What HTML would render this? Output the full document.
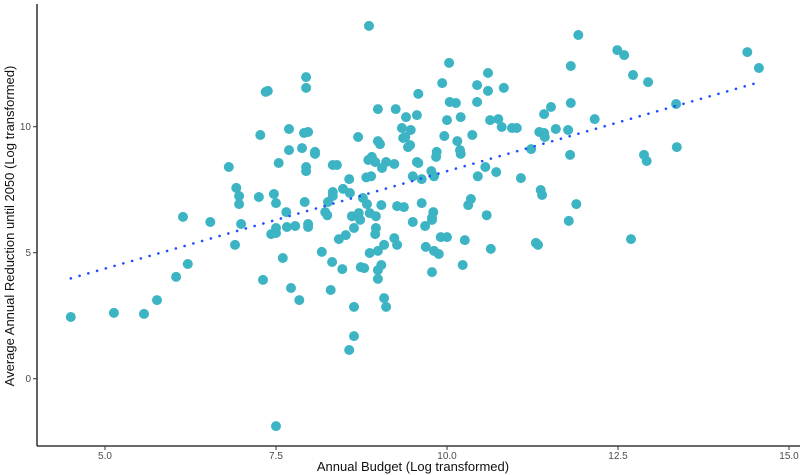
<!DOCTYPE html>
<html><head><meta charset="utf-8"><style>
html,body{margin:0;padding:0;background:#fff;}
svg{display:block;font-family:"Liberation Sans",sans-serif;}
</style></head><body>
<svg id="chart" width="800" height="475" viewBox="0 0 800 475" xmlns="http://www.w3.org/2000/svg">
<g id="marks"></g>
<line x1="37" y1="446" x2="800" y2="446" stroke="#111" stroke-width="1.3"/>
<line x1="37" y1="4" x2="37" y2="446" stroke="#111" stroke-width="1.3"/>
<g id="xticks"></g>
<g id="yticks"></g>
<text x="413" y="471" text-anchor="middle" font-size="13" fill="#111">Annual Budget (Log transformed)</text>
<text transform="translate(14,226) rotate(-90)" text-anchor="middle" font-size="13" fill="#111">Average Annual Reduction until 2050 (Log transformed)</text>
</svg>
<script>
const budgetX = [8.86,7.94,7.94,7.35,7.38,8.99,9.25,9.40,9.58,9.56,7.69,7.27,7.91,7.97,7.69,7.88,8.07,8.07,8.70,8.99,9.02,9.34,9.47,9.39,9.36,9.46,9.43,6.81,7.54,7.94,7.94,8.33,8.39,8.90,8.85,8.95,9.05,9.11,9.23,9.56,8.57,8.82,8.89,9.50,6.92,6.96,6.96,7.25,7.47,7.50,7.92,8.33,8.33,8.26,8.48,8.58,8.77,8.83,9.04,9.27,9.37,6.14,6.54,6.99,7.65,8.22,8.25,8.61,8.71,8.73,8.87,8.96,9.50,7.50,7.66,7.78,7.97,7.97,7.50,7.43,8.64,8.96,8.95,9.23,9.27,8.42,8.52,6.90,8.17,8.87,8.99,9.08,7.60,8.32,8.47,8.74,8.79,8.99,9.04,8.99,6.21,6.04,7.31,7.72,8.30,7.84,9.08,9.11,8.64,5.76,4.50,5.13,5.57,8.64,8.57,7.50,9.68,9.78,11.78,9.69,9.81,9.88,9.91,10.00,10.26,10.64,11.30,11.33,12.69,9.78,10.23,11.92,12.49,12.59,14.39,14.56,11.81,10.03,10.60,9.93,10.44,10.60,10.83,12.72,12.94,10.04,10.13,10.44,11.81,13.35,10.20,10.00,10.63,10.75,10.80,10.95,11.02,11.42,11.52,12.16,9.96,10.15,10.37,11.35,11.42,11.43,11.59,11.77,11.23,11.80,12.88,12.92,13.36,10.19,10.20,9.85,9.84,10.56,9.77,9.81,9.63,10.45,10.72,11.08,11.37,11.39,9.63,9.80,9.78,10.35,10.31,10.58,11.89,9.58];
const reductionY = [14.00,11.97,11.54,11.38,11.42,10.70,10.70,10.38,11.30,10.46,9.91,9.67,9.75,9.79,9.07,9.15,9.00,8.92,9.59,9.43,9.31,9.95,9.87,9.59,9.55,9.27,9.19,8.40,8.56,8.40,8.24,8.48,8.48,8.80,8.68,8.60,8.36,8.60,8.52,8.60,7.92,7.99,8.03,8.03,7.57,7.25,6.93,7.21,7.33,6.97,7.01,7.41,7.25,7.01,7.53,7.37,7.17,6.93,6.89,6.85,6.81,6.42,6.22,6.14,6.61,6.61,6.49,6.45,6.57,6.30,6.57,6.45,6.22,5.98,6.02,6.06,6.14,6.02,5.78,5.74,5.98,5.98,5.74,5.58,5.31,5.54,5.70,5.31,5.03,4.99,5.07,5.31,4.79,4.63,4.35,4.43,4.39,4.31,4.51,3.96,4.55,4.04,3.92,3.60,3.52,3.12,3.20,2.85,2.85,3.12,2.45,2.61,2.57,1.69,1.14,-1.88,6.06,6.30,6.26,5.23,5.07,4.95,5.62,5.62,5.50,5.15,5.39,5.31,5.54,4.23,4.51,13.64,13.04,12.84,12.96,12.33,12.41,12.53,12.13,11.73,11.65,11.42,11.54,12.05,11.77,10.98,10.94,10.98,10.94,10.90,10.38,10.26,10.26,10.30,9.99,9.95,9.95,10.50,10.78,10.30,9.63,9.43,9.67,9.79,9.75,9.59,9.91,9.87,9.11,8.88,8.88,8.64,9.19,9.07,8.92,9.00,8.80,8.40,8.24,8.03,7.92,8.03,8.20,7.96,7.49,7.29,6.97,6.61,6.38,7.13,6.89,6.49,6.93,8.56];
const xTickValues = [5.0, 7.5, 10.0, 12.5, 15.0];
const xTickLabels = ["5.0", "7.5", "10.0", "12.5", "15.0"];
const yTickValues = [0, 5, 10];
const yTickLabels = ["0", "5", "10"];

const NS = "http://www.w3.org/2000/svg";
function xScale(v){ return 105 + (v - 5) * 68.4; }
function yScale(v){ return 378.7 - v * 25.2; }

const marks = document.getElementById('marks');
for (let i = 0; i < budgetX.length; i++) {
  const c = document.createElementNS(NS, 'circle');
  c.setAttribute('cx', xScale(budgetX[i]).toFixed(1));
  c.setAttribute('cy', yScale(reductionY[i]).toFixed(1));
  c.setAttribute('r', 5.0);
  c.setAttribute('fill', '#3cb4c3');
  
  
  marks.appendChild(c);
}

const n = budgetX.length;
let sx=0, sy=0, sxx=0, sxy=0;
for (let i=0;i<n;i++){ sx+=budgetX[i]; sy+=reductionY[i]; sxx+=budgetX[i]*budgetX[i]; sxy+=budgetX[i]*reductionY[i]; }
const slope = (n*sxy - sx*sy) / (n*sxx - sx*sx);
const intercept = (sy - slope*sx) / n;
const xmin = Math.min(...budgetX), xmax = Math.max(...budgetX);
const tl = document.createElementNS(NS, 'line');
tl.setAttribute('x1', xScale(xmin));
tl.setAttribute('y1', yScale(intercept + slope*xmin));
tl.setAttribute('x2', xScale(xmax));
tl.setAttribute('y2', yScale(intercept + slope*xmax));
tl.setAttribute('stroke', '#1f4fff');
tl.setAttribute('stroke-width', 2.6);
tl.setAttribute('stroke-dasharray', '0.1 9');
tl.setAttribute('stroke-linecap', 'round');


marks.appendChild(tl);

const xt = document.getElementById('xticks');
for (let i=0;i<xTickValues.length;i++){
  const px = xScale(xTickValues[i]);
  const l = document.createElementNS(NS,'line');
  l.setAttribute('x1',px); l.setAttribute('x2',px); l.setAttribute('y1',446); l.setAttribute('y2',450);
  l.setAttribute('stroke','#333');
  
  
  xt.appendChild(l);
  const t = document.createElementNS(NS,'text');
  t.setAttribute('x',px); t.setAttribute('y',459); t.setAttribute('text-anchor','middle');
  t.setAttribute('font-size','10'); t.setAttribute('fill','#4d4d4d');
  t.textContent = xTickLabels[i];
  
  
  xt.appendChild(t);
}
const yt = document.getElementById('yticks');
for (let i=0;i<yTickValues.length;i++){
  const py = yScale(yTickValues[i]);
  const l = document.createElementNS(NS,'line');
  l.setAttribute('x1',33); l.setAttribute('x2',37); l.setAttribute('y1',py); l.setAttribute('y2',py);
  l.setAttribute('stroke','#333');
  
  
  yt.appendChild(l);
  const t = document.createElementNS(NS,'text');
  t.setAttribute('x',31); t.setAttribute('y',py+3.5); t.setAttribute('text-anchor','end');
  t.setAttribute('font-size','10'); t.setAttribute('fill','#4d4d4d');
  t.textContent = yTickLabels[i];
  
  
  yt.appendChild(t);
}
</script>
</body></html>
